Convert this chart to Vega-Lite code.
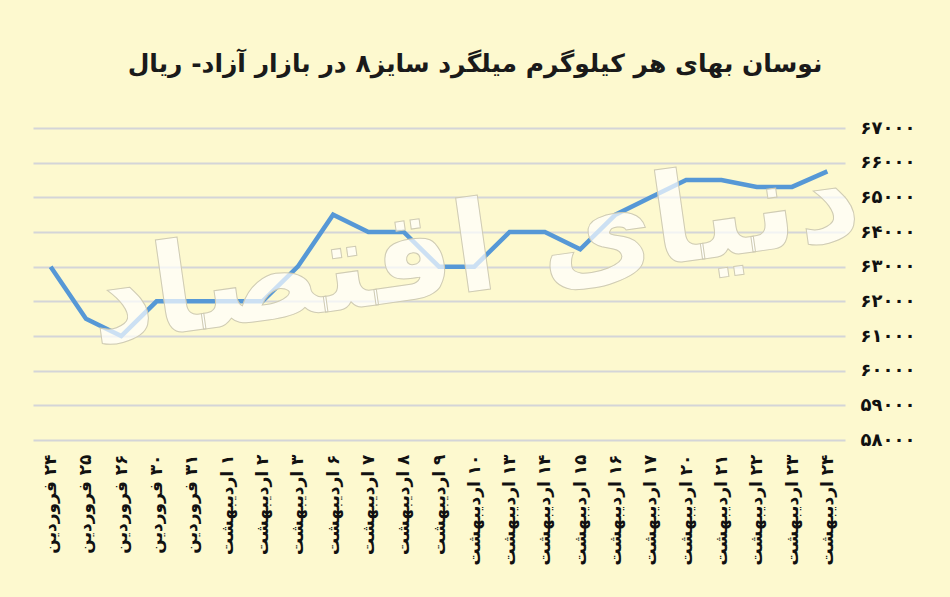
{
  "$schema": "https://vega.github.io/schema/vega-lite/v6.json",
  "width": 812,
  "height": 312,
  "autosize": {"type": "none"},
  "padding": {"left": 33, "top": 128, "right": 105, "bottom": 157},
  "background": "#FDF9CF",
  "config": {
    "view": {"stroke": null},
    "font": "DejaVu Sans"
  },
  "title": {
    "text": "نوسان بهای هر کیلوگرم میلگرد سایز۸ در بازار آزاد- ریال",
    "font": "DejaVu Sans",
    "fontSize": 25,
    "fontWeight": "bold",
    "color": "#1a1a1a",
    "anchor": "middle",
    "dx": 36,
    "offset": 42
  },
  "encoding": {
    "x": {
      "field": "date",
      "type": "nominal",
      "sort": null,
      "scale": {"type": "point", "padding": 0.5},
      "axis": {
        "title": null,
        "grid": false,
        "domain": false,
        "ticks": false,
        "labelAngle": 270,
        "labelPadding": 14,
        "labelFontSize": 17,
        "labelFontWeight": "bold",
        "labelColor": "#111111",
        "labelFont": "DejaVu Sans"
      }
    },
    "y": {
      "field": "price",
      "type": "quantitative",
      "scale": {"domain": [58000, 67000], "nice": false, "zero": false},
      "axis": {
        "orient": "right",
        "title": null,
        "domain": false,
        "ticks": false,
        "grid": true,
        "gridColor": "#D4D5D8",
        "gridWidth": 2,
        "values": [58000, 59000, 60000, 61000, 62000, 63000, 64000, 65000, 66000, 67000],
        "labelOverlap": false,
        "format": "d",
        "labelExpr": "replace(replace(replace(replace(replace(replace(replace(replace(replace(replace(datum.label, regexp('0','g'), '۰'), regexp('1','g'), '۱'), regexp('2','g'), '۲'), regexp('3','g'), '۳'), regexp('4','g'), '۴'), regexp('5','g'), '۵'), regexp('6','g'), '۶'), regexp('7','g'), '۷'), regexp('8','g'), '۸'), regexp('9','g'), '۹')",
        "labelPadding": 15,
        "labelFontSize": 18,
        "labelFontWeight": "bold",
        "labelColor": "#111111",
        "labelFont": "DejaVu Sans"
      }
    }
  },
  "layer": [
    {
      "data": {
        "values": [
          {"date": "‏۲۴ فروردین", "price": 63000},
          {"date": "‏۲۵ فروردین", "price": 61500},
          {"date": "‏۲۶ فروردین", "price": 61000},
          {"date": "‏۳۰ فروردین", "price": 62000},
          {"date": "‏۳۱ فروردین", "price": 62000},
          {"date": "‏۱ اردیبهشت", "price": 62000},
          {"date": "‏۲ اردیبهشت", "price": 62000},
          {"date": "‏۳ اردیبهشت", "price": 63000},
          {"date": "‏۶ اردیبهشت", "price": 64500},
          {"date": "‏۷ اردیبهشت", "price": 64000},
          {"date": "‏۸ اردیبهشت", "price": 64000},
          {"date": "‏۹ اردیبهشت", "price": 63000},
          {"date": "‏۱۰ اردیبهشت", "price": 63000},
          {"date": "‏۱۳ اردیبهشت", "price": 64000},
          {"date": "‏۱۴ اردیبهشت", "price": 64000},
          {"date": "‏۱۵ اردیبهشت", "price": 63500},
          {"date": "‏۱۶ اردیبهشت", "price": 64500},
          {"date": "‏۱۷ اردیبهشت", "price": 65000},
          {"date": "‏۲۰ اردیبهشت", "price": 65500},
          {"date": "‏۲۱ اردیبهشت", "price": 65500},
          {"date": "‏۲۲ اردیبهشت", "price": 65300},
          {"date": "‏۲۳ اردیبهشت", "price": 65300},
          {"date": "‏۲۴ اردیبهشت", "price": 65750}
        ]
      },
      "mark": {"type": "line", "color": "#5698D6", "strokeWidth": 4.5, "strokeJoin": "miter"}
    },
    {
      "data": {"values": [{"date": "‏۱۰ اردیبهشت", "price": 63400, "label": "دنیای اقتصاد"}]},
      "mark": {
        "type": "text",
        "font": "DejaVu Sans",
        "fontSize": 125,
        "fontWeight": "bold",
        "fill": "#FFFFFF",
        "fillOpacity": 0.7,
        "stroke": "#CFCBB3",
        "strokeWidth": 1,
        "angle": -8,
        "align": "center",
        "baseline": "middle"
      },
      "encoding": {
        "text": {"field": "label"}
      }
    }
  ]
}
